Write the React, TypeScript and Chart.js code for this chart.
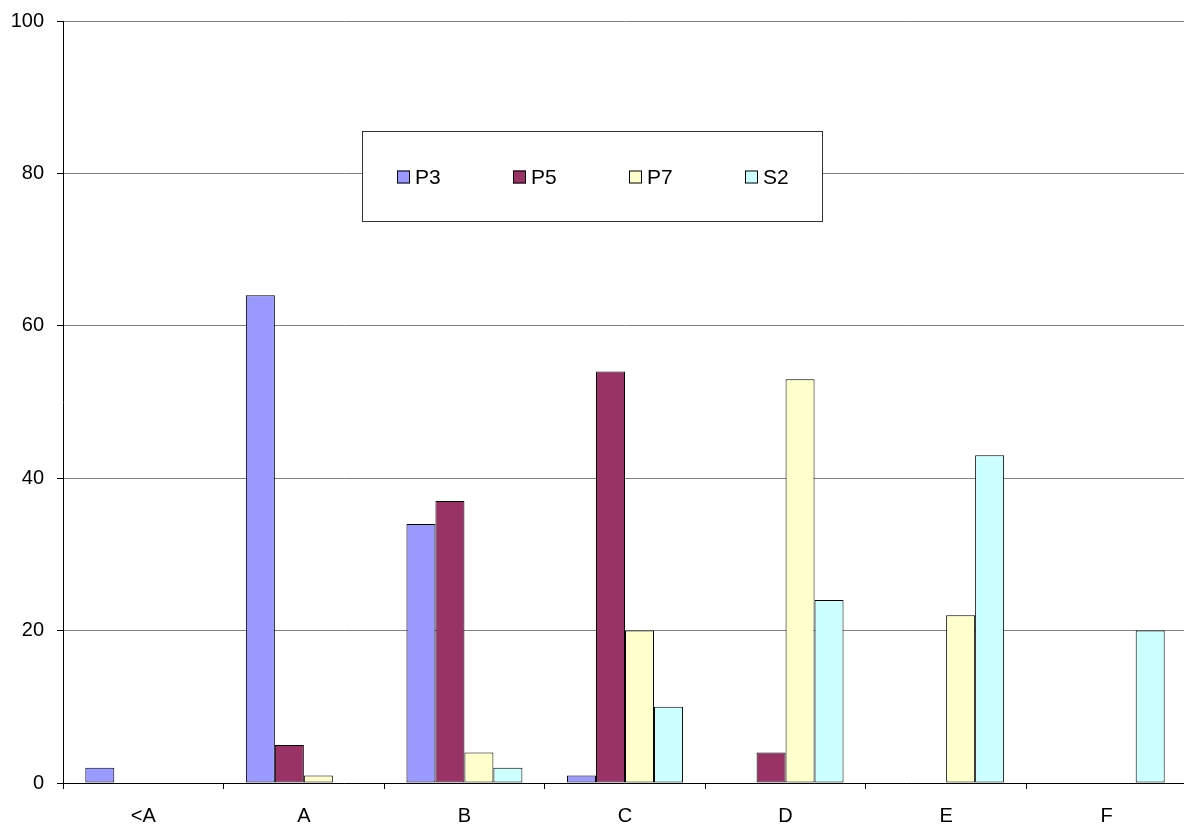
import React, { useEffect, useRef } from "react";
import { Chart, registerables } from "chart.js";

Chart.register(...registerables);

const categories = ["<A", "A", "B", "C", "D", "E", "F"];
const seriesNames = ["P3", "P5", "P7", "S2"];
const p3Values = [2, 64, 34, 1, 0, 0, 0];
const p5Values = [0, 5, 37, 54, 4, 0, 0];
const p7Values = [0, 1, 4, 20, 53, 22, 0];
const s2Values = [0, 0, 2, 10, 24, 43, 20];
const seriesColors = ["#9999FF", "#993366", "#FFFFCC", "#CCFFFF"];
const yTicks = [0, 20, 40, 60, 80, 100];

const FONT = "'Liberation Sans', Arial, sans-serif";
const CANVAS_W = 1190;
const CANVAS_H = 830;

const legendBoxPlugin = {
  id: "legendBox",
  afterDraw(chart: any) {
    const { ctx, chartArea } = chart;
    const x0 = Math.round(chartArea.left + 299);
    const y0 = Math.round(chartArea.top + 110);
    const w = 460;
    const h = 90;
    ctx.save();
    ctx.fillStyle = "#ffffff";
    ctx.fillRect(x0, y0, w, h);
    ctx.strokeStyle = "#333333";
    ctx.lineWidth = 1;
    ctx.strokeRect(x0 + 0.5, y0 + 0.5, w, h);
    ctx.font = `21px ${FONT}`;
    ctx.textBaseline = "middle";
    ctx.textAlign = "left";
    const cy = y0 + 46;
    seriesNames.forEach((name, i) => {
      const sx = x0 + 35 + i * 116;
      ctx.fillStyle = seriesColors[i];
      ctx.fillRect(sx, cy - 6.5, 13, 13);
      ctx.strokeStyle = "#000000";
      ctx.strokeRect(sx + 0.5, cy - 6, 12, 12);
      ctx.fillStyle = "#000000";
      ctx.fillText(name, sx + 18, cy + 1);
    });
    ctx.restore();
  },
};

export default function App() {
  const canvasRef = useRef<HTMLCanvasElement | null>(null);

  useEffect(() => {
    document.body.style.margin = "0";
    const canvas = canvasRef.current;
    if (!canvas) return;
    const dataArrays = [p3Values, p5Values, p7Values, s2Values];
    const chart = new Chart(canvas, {
      type: "bar",
      data: {
        labels: categories,
        datasets: seriesNames.map((name, i) => ({
          label: name,
          data: dataArrays[i],
          backgroundColor: seriesColors[i],
          borderColor: "#000000",
          borderWidth: 1,
          borderSkipped: false,
          barPercentage: 1,
          categoryPercentage: 0.722,
        })),
      },
      options: {
        animation: false,
        responsive: false,
        maintainAspectRatio: false,
        layout: { padding: { top: 17, right: 3, left: 0, bottom: 0 } },
        plugins: {
          legend: { display: false },
          tooltip: { enabled: false },
        },
        scales: {
          x: {
            offset: true,
            grid: {
              offset: true,
              drawOnChartArea: false,
              drawTicks: true,
              tickLength: 6,
              color: "#000000",
            },
            border: { color: "#000000", width: 1 },
            ticks: {
              color: "#000000",
              font: { family: FONT, size: 20 },
              padding: 15,
              maxRotation: 0,
            },
            afterFit(scale: any) {
              scale.height = 43;
            },
          },
          y: {
            min: 0,
            max: 100,
            afterBuildTicks(scale: any) {
              scale.ticks = yTicks.map((v) => ({ value: v }));
            },
            grid: {
              color: "#808080",
              drawTicks: true,
              tickLength: 6,
              tickColor: "#000000",
              lineWidth: 1,
            },
            border: { color: "#000000", width: 1 },
            ticks: {
              color: "#000000",
              font: { family: FONT, size: 20 },
              padding: 13,
            },
            afterFit(scale: any) {
              scale.width = 63;
            },
          },
        },
      },
      plugins: [legendBoxPlugin],
    });
    return () => chart.destroy();
  }, []);

  return (
    <div style={{ position: "absolute", left: 0, top: 0, width: 1184, height: 826, overflow: "hidden" }}>
      <canvas
        ref={canvasRef}
        width={CANVAS_W}
        height={CANVAS_H}
        style={{ width: CANVAS_W, height: CANVAS_H, display: "block", position: "absolute", left: 0, top: -4 }}
      />
    </div>
  );
}
